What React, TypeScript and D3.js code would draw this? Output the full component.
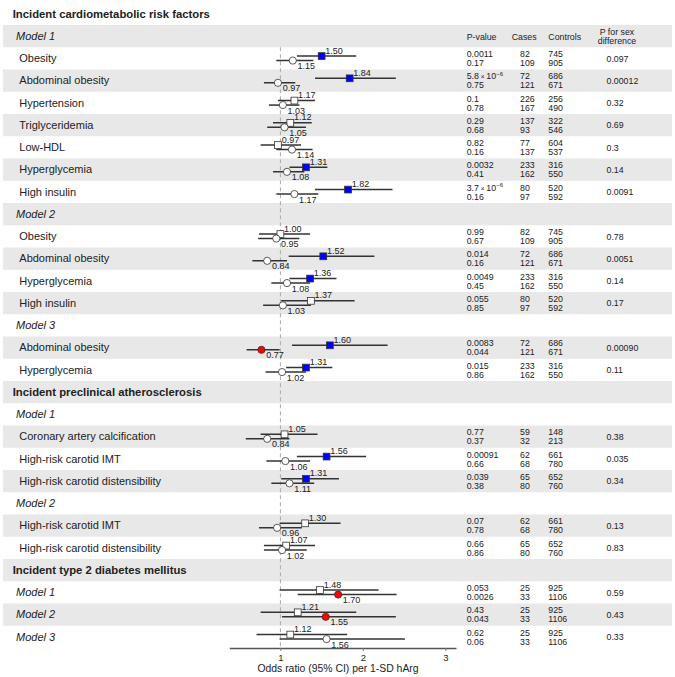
import React, { useEffect, useRef } from 'react';
import * as d3 from 'd3';

// row layout: S = section title, M = model header, I = outcome row, D = model row with data
const rowLabels = [
  'Incident cardiometabolic risk factors', 'Model 1', 'Obesity', 'Abdominal obesity', 'Hypertension',
  'Triglyceridemia', 'Low-HDL', 'Hyperglycemia', 'High insulin',
  'Model 2', 'Obesity', 'Abdominal obesity', 'Hyperglycemia', 'High insulin',
  'Model 3', 'Abdominal obesity', 'Hyperglycemia',
  'Incident preclinical atherosclerosis', 'Model 1', 'Coronary artery calcification', 'High-risk carotid IMT',
  'High-risk carotid distensibility',
  'Model 2', 'High-risk carotid IMT', 'High-risk carotid distensibility',
  'Incident type 2 diabetes mellitus', 'Model 1', 'Model 2', 'Model 3',
];
const rowKinds = [
  'S', 'M', 'I', 'I', 'I', 'I', 'I', 'I', 'I',
  'M', 'I', 'I', 'I', 'I',
  'M', 'I', 'I',
  'S', 'M', 'I', 'I', 'I',
  'M', 'I', 'I',
  'S', 'D', 'D', 'D',
];

// square estimates (upper) and circle estimates (lower)
const sqOR = [1.5, 1.84, 1.17, 1.12, 0.97, 1.31, 1.82, 1.0, 1.52, 1.36, 1.37, 1.6, 1.31, 1.05, 1.56, 1.31, 1.3, 1.07, 1.48, 1.21, 1.12];
const sqLo = [1.2, 1.42, 0.97, 0.91, 0.76, 1.11, 1.42, 0.74, 1.1, 1.11, 1.01, 1.14, 1.07, 0.76, 1.2, 1.01, 0.99, 0.8, 0.99, 0.76, 0.71];
const sqHi = [1.92, 2.4, 1.42, 1.38, 1.25, 1.57, 2.36, 1.36, 2.14, 1.68, 1.9, 2.3, 1.63, 1.45, 2.04, 1.71, 1.73, 1.42, 2.19, 1.92, 1.81];
const ciOR = [1.15, 0.97, 1.03, 1.05, 1.14, 1.08, 1.17, 0.95, 0.84, 1.08, 1.03, 0.77, 1.02, 0.84, 1.06, 1.11, 0.96, 1.02, 1.7, 1.55, 1.56];
const ciLo = [0.95, 0.8, 0.86, 0.84, 0.95, 0.91, 0.95, 0.73, 0.66, 0.89, 0.79, 0.59, 0.82, 0.58, 0.83, 0.89, 0.74, 0.8, 1.21, 1.02, 0.99];
const ciHi = [1.4, 1.18, 1.23, 1.31, 1.39, 1.29, 1.46, 1.23, 1.08, 1.36, 1.37, 0.99, 1.31, 1.11, 1.36, 1.41, 1.26, 1.32, 2.41, 2.4, 2.51];

const pSq = ['0.0011', '5.8 × 10^-6', '0.1', '0.29', '0.82', '0.0032', '3.7 × 10^-6', '0.99', '0.014', '0.0049', '0.055',
  '0.0083', '0.015', '0.77', '0.00091', '0.039', '0.07', '0.66', '0.053', '0.43', '0.62'];
const pCi = ['0.17', '0.75', '0.78', '0.68', '0.16', '0.41', '0.16', '0.67', '0.16', '0.45', '0.85',
  '0.044', '0.86', '0.37', '0.66', '0.38', '0.78', '0.86', '0.0026', '0.043', '0.06'];
const casesSq = [82, 72, 226, 137, 77, 233, 80, 82, 72, 233, 80, 72, 233, 59, 62, 65, 62, 65, 25, 25, 25];
const casesCi = [109, 121, 167, 93, 137, 162, 97, 109, 121, 162, 97, 121, 162, 32, 68, 80, 68, 80, 33, 33, 33];
const controlsSq = [745, 686, 256, 322, 604, 316, 520, 745, 686, 316, 520, 686, 316, 148, 661, 652, 661, 652, 925, 925, 925];
const controlsCi = [905, 671, 490, 546, 537, 550, 592, 905, 671, 550, 592, 671, 550, 213, 780, 760, 780, 760, 1106, 1106, 1106];
const pSex = ['0.097', '0.00012', '0.32', '0.69', '0.3', '0.14', '0.0091', '0.78', '0.0051', '0.14', '0.17',
  '0.00090', '0.11', '0.38', '0.035', '0.34', '0.13', '0.83', '0.59', '0.43', '0.33'];

const xTicks = [1, 2, 3];
const axisDomain = [0.38, 3.13];
const axisTitle = 'Odds ratio (95% CI) per 1-SD hArg';

const W = 675;
const H = 677;
const rowTop = 2.75;
const rowH = 22.25;
const font = '"Liberation Sans", Arial, Helvetica, sans-serif';
const ink = '#222';
const lineCol = '#333';

function pNum(s: string) {
  if (s.includes('^')) {
    const [base, exp] = s.split('^');
    return parseFloat(base) * Math.pow(10, +exp);
  }
  return +s;
}

function PText({ s, x, y }: { s: string; x: number; y: number }) {
  if (s.includes('^')) {
    const [base, exp] = s.split('^');
    const mant = base.split(' × ')[0];
    return (
      <text x={x} y={y}>
        {mant}
        <tspan fontSize={6.5}> × </tspan>
        10
        <tspan fontSize={6} dy={-3.5}>{exp.replace('-', '−')}</tspan>
      </text>
    );
  }
  return <text x={x} y={y}>{s}</text>;
}

export default function App() {
  const axisRef = useRef<SVGGElement>(null);
  const x = d3.scaleLinear().domain(axisDomain).range([229.3, 456]);
  const axisY = rowTop + rowLabels.length * rowH;

  useEffect(() => {
    const g = d3.select(axisRef.current);
    g.selectAll('*').remove();
    g.call(d3.axisBottom(x).tickValues(xTicks).tickSize(3).tickSizeOuter(0).tickFormat(d3.format('d')) as any);
    g.attr('font-size', 9.5).attr('font-family', font);
    g.select('.domain').attr('stroke', '#555').attr('stroke-width', 1.5);
    g.selectAll('.tick line').attr('stroke', '#777');
    g.selectAll('.tick text').attr('fill', ink);
  }, []);

  let di = -1;
  const rows = rowLabels.map((label, i) => {
    const kind = rowKinds[i];
    const top = rowTop + i * rowH;
    const c = top + rowH / 2;
    const d = kind === 'I' || kind === 'D' ? ++di : -1;
    return { label, kind, top, c, d, i };
  });

  const b1 = -1.3; // first table line baseline offset
  const b2 = 7.7; // second table line baseline offset

  return (
    <svg width={W} height={H} style={{ position: 'absolute', left: 0, top: 0, background: '#fff' }} fontFamily={font}>
      {rows.map((r) =>
        r.i % 2 === 1 ? <rect key={'b' + r.i} x={3} y={r.top} width={669} height={rowH} fill="#e8e8e8" /> : null
      )}

      {rows.map((r) => (
        <text
          key={'l' + r.i}
          x={r.kind === 'S' ? 12.7 : r.kind === 'I' ? 19.3 : 16}
          y={r.c + 3.8}
          fontSize={r.kind === 'S' ? 11.3 : 11}
          fontWeight={r.kind === 'S' ? 'bold' : 'normal'}
          fontStyle={r.kind === 'M' || r.kind === 'D' ? 'italic' : 'normal'}
          fill={ink}
        >
          {r.label}
        </text>
      ))}

      {/* column headers */}
      <g fontSize={8.8} fill={ink}>
        <text x={466.7} y={rows[1].c + 3.9}>P-value</text>
        <text x={511.7} y={rows[1].c + 3.9}>Cases</text>
        <text x={548.3} y={rows[1].c + 3.9}>Controls</text>
        <text x={617} y={rows[1].c - 1} textAnchor="middle">P for sex</text>
        <text x={617} y={rows[1].c + 8.2} textAnchor="middle">difference</text>
      </g>

      <line x1={x(1)} x2={x(1)} y1={rowTop + 2 * rowH} y2={axisY} stroke="#aaa" strokeDasharray="4,3" strokeWidth={1} />

      {rows.filter((r) => r.d >= 0).map((r) => {
        const k = r.d;
        const ys = r.c - 2.3;
        const yc = r.c + 2.2;
        const sqFill = pNum(pSq[k]) < 0.05 ? '#0000ff' : '#fff';
        const ciFill = pNum(pCi[k]) < 0.05 ? '#ff0000' : '#fff';
        return (
          <g key={'d' + r.i}>
            <line x1={x(sqLo[k])} x2={x(sqHi[k])} y1={ys} y2={ys} stroke={lineCol} strokeWidth={1.5} />
            <line x1={x(ciLo[k])} x2={x(ciHi[k])} y1={yc} y2={yc} stroke={lineCol} strokeWidth={1.5} />
            <rect x={x(sqOR[k]) - 3.4} y={ys - 3.4} width={6.8} height={6.8} fill={sqFill} stroke={lineCol} strokeWidth={0.8} />
            <circle cx={x(ciOR[k])} cy={yc} r={3.6} fill={ciFill} stroke={lineCol} strokeWidth={0.8} />
            <text x={x(sqOR[k]) + 3.7} y={ys - 2.4} fontSize={9} fill={ink}>{sqOR[k].toFixed(2)}</text>
            <text x={x(ciOR[k]) + 4.7} y={yc + 8.6} fontSize={9} fill={ink}>{ciOR[k].toFixed(2)}</text>
            <g fontSize={8.8} fill={ink}>
              <PText s={pSq[k]} x={466.7} y={r.c + b1} />
              <PText s={pCi[k]} x={466.7} y={r.c + b2} />
              <text x={520} y={r.c + b1}>{casesSq[k]}</text>
              <text x={520} y={r.c + b2}>{casesCi[k]}</text>
              <text x={548.3} y={r.c + b1}>{controlsSq[k]}</text>
              <text x={548.3} y={r.c + b2}>{controlsCi[k]}</text>
              <text x={606.5} y={r.c + 3.3}>{pSex[k]}</text>
            </g>
          </g>
        );
      })}

      <g ref={axisRef} transform={`translate(0,${axisY})`} />
      <text x={338} y={axisY + 24} fontSize={10.4} textAnchor="middle" fill={ink}>{axisTitle}</text>
    </svg>
  );
}
